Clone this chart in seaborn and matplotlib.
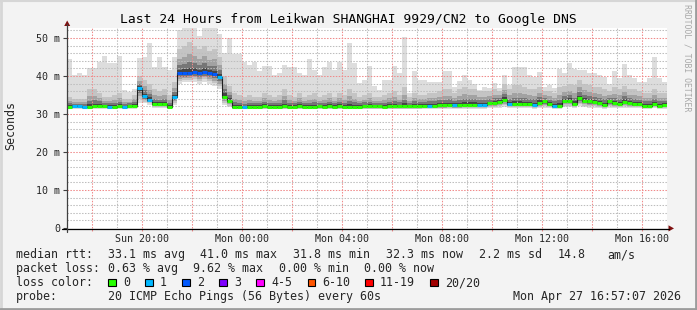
import numpy as np
import pandas as pd
import matplotlib
matplotlib.use("Agg")
import matplotlib.pyplot as plt
import seaborn as sns
from matplotlib.patches import Rectangle, Polygon
from matplotlib.lines import Line2D

# ---------------- data ----------------
title = "Last 24 Hours from Leikwan SHANGHAI 9929/CN2 to Google DNS"
start_hour = 16 + 59 / 60          # Sun 16:59, hours since Sun 00:00
step_hours = 0.2                   # 12 minute consolidation steps

median_ms = [31.9, 32.0, 32.0, 31.9, 31.9, 32.0, 32.2, 32.1, 31.9, 31.9, 32.0, 31.9, 32.1, 32.2,
             36.8, 34.7, 33.7, 32.6, 32.6, 32.6, 31.9, 34.4,
             40.7, 40.7, 40.8, 41.0, 40.7, 41.0, 40.7, 40.4, 39.8, 34.6, 33.5,
             31.9, 31.9, 31.8, 31.9, 31.9, 31.9, 32.0, 31.9, 31.9, 31.9, 32.0, 31.9, 31.9, 32.0,
             31.9, 31.9, 31.9, 32.0, 31.9, 32.0, 31.9, 32.0,
             31.9, 31.8, 31.8, 31.9, 32.0, 32.0, 32.0, 32.0, 31.9, 32.0, 32.1, 32.0, 32.1, 32.0,
             32.1, 32.1, 32.2, 32.2, 32.2, 32.3, 32.3, 32.4, 32.3, 32.3, 32.4, 32.5, 32.5, 32.5,
             32.5, 32.8, 33.0, 33.2, 33.7, 32.6, 32.6, 32.6, 32.6, 32.6, 32.4, 33.0, 33.3, 32.6,
             32.1, 32.1, 33.4, 33.4, 32.6, 34.1, 33.5, 33.3, 33.1, 32.8, 32.4, 33.3, 32.8, 32.6,
             33.2, 33.0, 32.6, 32.6, 32.2, 32.1, 32.6, 32.2, 32.3]

max_ms = [44.5, 40.3, 40.9, 40.3, 42.0, 42.0, 43.7, 45.2, 43.3, 43.3, 45.2, 36.3, 35.9, 36.5,
          44.8, 44.9, 48.6, 42.4, 44.9, 42.4, 41.6, 45.0,
          52.0, 53.0, 53.0, 53.0, 50.5, 53.0, 53.0, 53.0, 51.0, 46.0, 50.0,
          45.9, 45.9, 43.8, 42.9, 43.8, 41.2, 42.6, 42.6, 40.3, 40.7, 42.9, 42.4, 42.4, 40.7,
          40.3, 44.4, 41.6, 40.3, 42.4, 43.8, 41.6, 43.8,
          41.5, 48.6, 43.3, 38.1, 39.0, 42.6, 37.4, 36.3, 39.0, 39.0, 42.6, 40.9, 50.3, 35.6,
          41.4, 39.0, 39.0, 38.5, 38.5, 38.5, 41.4, 41.4, 37.2, 38.8, 40.3, 39.0, 37.9, 36.3,
          37.0, 36.8, 38.1, 36.8, 40.3, 37.6, 42.4, 42.4, 42.4, 40.3, 39.8, 41.1, 37.2, 37.6,
          36.8, 41.9, 40.7, 43.5, 41.9, 41.7, 41.7, 40.7, 40.7, 40.3, 39.7, 37.8, 41.4, 39.4,
          43.2, 40.3, 39.5, 38.5, 38.3, 39.4, 45.0, 39.5, 38.5]

upper_band_ms = [34.5, 34.0, 34.0, 34.0, 36.5, 36.5, 35.5, 34.5, 34.5, 35.0, 35.5, 34.0, 34.0, 35.0,
                 40.0, 39.0, 38.0, 36.5, 36.0, 36.5, 35.0, 38.5,
                 47.0, 48.0, 49.0, 48.0, 47.0, 48.0, 46.5, 47.0, 45.0, 40.0, 37.5,
                 35.5, 35.0, 34.5, 35.0, 34.5, 34.5, 35.5, 35.0, 34.5, 35.0, 36.5, 35.0, 34.5, 35.5,
                 34.5, 35.0, 35.5, 34.5, 35.0, 35.5, 34.5, 35.5,
                 35.0, 36.5, 35.5, 34.5, 35.0, 35.5, 34.5, 34.5, 35.0, 35.5, 36.0, 35.0, 37.0, 34.5,
                 35.5, 35.0, 35.0, 35.5, 35.5, 36.0, 36.5, 36.5, 35.5, 36.5, 37.0, 36.5, 36.5, 36.0,
                 36.0, 36.0, 36.5, 36.0, 38.0, 36.5, 37.5, 37.5, 37.0, 36.5, 36.5, 37.0, 36.0, 36.0,
                 35.5, 37.0, 37.5, 38.0, 37.5, 39.0, 38.0, 37.5, 37.0, 37.0, 36.5, 36.0, 37.0, 36.5,
                 37.5, 36.5, 36.5, 36.0, 35.5, 35.5, 36.5, 35.5, 35.5]

min_ms = [31.2, 31.3, 31.3, 31.2, 31.2, 31.3, 31.4, 31.3, 31.2, 31.2, 31.3, 31.2, 31.3, 31.4,
          33.0, 32.8, 32.5, 31.6, 31.6, 31.5, 31.2, 32.5,
          38.0, 38.3, 38.5, 38.5, 38.0, 38.5, 38.0, 37.5, 36.5, 32.5, 31.8] + \
         [31.2] * 22 + [31.2] * 28 + \
         [31.4, 31.5, 31.6, 31.6, 31.8, 31.5, 31.5, 31.5, 31.5, 31.5, 31.4, 31.6, 31.7, 31.5,
          31.3, 31.3, 31.8, 31.8, 31.5, 32.0, 31.8, 31.7, 31.6, 31.5, 31.4, 31.7, 31.5, 31.5,
          31.6, 31.6, 31.5, 31.5, 31.3, 31.3, 31.5, 31.3, 31.4]

loss_count = [0] * 120
for i in [1, 2, 3, 8, 11, 14, 15, 16, 21, 30, 35, 72, 77, 82, 83, 88, 93, 97]:
    loss_count[i] = 1
for i in range(22, 30):
    loss_count[i] = 2

loss_labels = ["0", "1", "2", "3", "4-5", "6-10", "11-19", "20/20"]
loss_colors = ["#26ff00", "#00b8ff", "#0059ff", "#7e00ff", "#ff00ff", "#ff5500", "#ff0000", "#a10000"]

tick_hours = [20, 24, 28, 32, 36, 40]
tick_labels = ["Sun 20:00", "Mon 00:00", "Mon 04:00", "Mon 08:00", "Mon 12:00", "Mon 16:00"]
y_ticks = [0, 10, 20, 30, 40, 50]
y_tick_labels = ["0", "10 m", "20 m", "30 m", "40 m", "50 m"]

legend_rtt = [("median rtt:", 16), ("33.1 ms avg", 107.5), ("41.0 ms max", 200), ("31.8 ms min", 293.3),
              ("32.3 ms now", 385.8), ("2.2 ms sd", 479), ("14.8", 558), ("am/s", 607)]
legend_loss = [("packet loss:", 16), ("0.63 % avg", 107.5), ("9.62 % max", 193.3),
               ("0.00 % min", 279), ("0.00 % now", 364.4)]
probe_text = "20 ICMP Echo Pings (56 Bytes) every 60s"
stamp_text = "Mon Apr 27 16:57:07 2026"

# ---------------- figure ----------------
sns.set_theme(style="white")
plt.rcParams['font.family'] = ['DejaVu Sans Mono']

W, H = 697, 310
fig = plt.figure(figsize=(W / 100, H / 100), dpi=100)
fig.patch.set_facecolor('#f3f3f3')


def fx(x):
    return x / W


def fy(y):
    return 1 - y / H


ax = fig.add_axes([fx(67), fy(228), 600 / W, 200 / H])
ax.set_facecolor('white')

n = len(median_ms)
df = pd.DataFrame({
    't': start_hour + step_hours * np.arange(n),
    'med': median_ms, 'mx': max_ms, 'hi': upper_band_ms, 'mn': min_ms, 'loss': loss_count,
})

# smoke layers (outer = lightest)
up_frac = [None, None, 0.6, 0.35, 0.15]
lo_frac = [None, 0.75, 0.55, 0.35, 0.18]
smoke_cols = ['#dddddd', '#c4c4c4', '#a2a2a2', '#767676', '#444444']
for k, col in enumerate(smoke_cols):
    if k == 0:
        upper = df['mx']
    elif k == 1:
        upper = df['hi']
    else:
        upper = df['med'] + up_frac[k] * (df['hi'] - df['med'])
    if k == 0:
        lower = df['mn']
    else:
        lower = df['med'] - lo_frac[k] * (df['med'] - df['mn'])
    ax.bar(df['t'], upper - lower, bottom=lower, width=step_hours, align='edge',
           color=col, linewidth=0, zorder=1)

# grid (dotted, above smoke)
dot = (0, (1.4, 1.4))
for h in range(17, 41):
    c = '#f08a8a' if h % 2 == 0 else '#bdbdbd'
    ax.axvline(h, color=c, lw=0.75, ls=dot, zorder=2)
for v in range(2, 53, 2):
    c = '#f08a8a' if v % 10 == 0 else '#bdbdbd'
    ax.axhline(v, color=c, lw=0.75, ls=dot, zorder=2)

# median: thin dark step line + loss coloured segments
step_x = list(df['t']) + [df['t'].iloc[-1] + step_hours]
step_y = list(df['med']) + [df['med'].iloc[-1]]
sns.lineplot(x=step_x, y=step_y, ax=ax, drawstyle='steps-post', estimator=None, sort=False,
             color='#202020', lw=0.8, zorder=3)
ax.hlines(df['med'], df['t'], df['t'] + step_hours,
          colors=[loss_colors[l] for l in df['loss']], lw=2.2, zorder=4)

ax.set_xlim(start_hour, start_hour + 24)
ax.set_ylim(0, 200 / 3.8)
for s in ax.spines.values():
    s.set_visible(False)
ax.set_xticks(tick_hours, labels=tick_labels)
ax.set_xticks(range(18, 41, 2), minor=True)
ax.tick_params(axis='x', which='major', length=2.2, width=0.8, color='#f08a8a', pad=2.0,
               labelsize=7.2, bottom=True)
ax.tick_params(axis='x', which='minor', length=2.2, width=0.8, color='#f08a8a', bottom=True)
ax.set_yticks(y_ticks, labels=y_tick_labels)
ax.tick_params(axis='y', length=2.9, width=0.8, color='#404040', pad=2.2, labelsize=7.2, left=True)
ax.set_xlabel('')
ax.set_ylabel('')

# axis lines and arrows
fig.add_artist(Line2D([fx(62), fx(669)], [fy(228.5), fy(228.5)], color='black', lw=0.9))
fig.add_artist(Line2D([fx(67.2), fx(67.2)], [fy(232), fy(24)], color='#404040', lw=0.9))
fig.add_artist(Polygon([(fx(64.2), fy(26)), (fx(70.2), fy(26)), (fx(67.2), fy(20.5))],
                       closed=True, facecolor='#7f1010', edgecolor='none'))
fig.add_artist(Polygon([(fx(668.5), fy(225.3)), (fx(668.5), fy(231.5)), (fx(674), fy(228.4))],
                       closed=True, facecolor='#7f1010', edgecolor='none'))

# texts
fig.text(fx(348.5), fy(19.5), title, ha='center', va='center', fontsize=9.4, color='black')
fig.text(fx(10.5), fy(125.5), 'Seconds', rotation=90, ha='center', va='center', fontsize=8.4)
fig.text(fx(687.5), fy(4.5), 'RRDTOOL / TOBI OETIKER', rotation=270, ha='center', va='top',
         fontsize=5.9, color='#a8a8a8')

for txt, x in legend_rtt:
    fig.text(fx(x), fy(254.5), txt, ha='left', va='center', fontsize=8.4)
for txt, x in legend_loss:
    fig.text(fx(x), fy(268.5), txt, ha='left', va='center', fontsize=8.4)
fig.text(fx(16), fy(282.5), "loss color:", ha='left', va='center', fontsize=8.4)
sq_x = [108, 145, 182.2, 219, 256.4, 307.6, 365.3, 430]
for lab, col, x in zip(loss_labels, loss_colors, sq_x):
    fig.add_artist(Rectangle((fx(x), fy(286.2)), 7.7 / W, 7.7 / H, facecolor=col,
                             edgecolor='black', lw=0.8, transform=fig.transFigure))
    fig.text(fx(x + 14.8), fy(282.5), lab, ha='left', va='center', fontsize=8.4)
fig.text(fx(16), fy(296.3), "probe:", ha='left', va='center', fontsize=8.4)
fig.text(fx(107.5), fy(296.3), probe_text, ha='left', va='center', fontsize=8.4)
fig.text(fx(513.3), fy(296.3), stamp_text, ha='left', va='center', fontsize=8.4)

# frame around the canvas
fig.add_artist(Line2D([0, 1], [fy(0.8), fy(0.8)], color='#d6d6d6', lw=1.5))
fig.add_artist(Line2D([fx(1), fx(1)], [0, 1], color='#d6d6d6', lw=2.0))
fig.add_artist(Line2D([0, 1], [fy(308.8), fy(308.8)], color='#9c9c9c', lw=2.0))
fig.add_artist(Line2D([fx(695.5), fx(695.5)], [0, 1], color='#9c9c9c', lw=2.0))

fig.savefig('out.png', dpi=100, facecolor=fig.get_facecolor())
